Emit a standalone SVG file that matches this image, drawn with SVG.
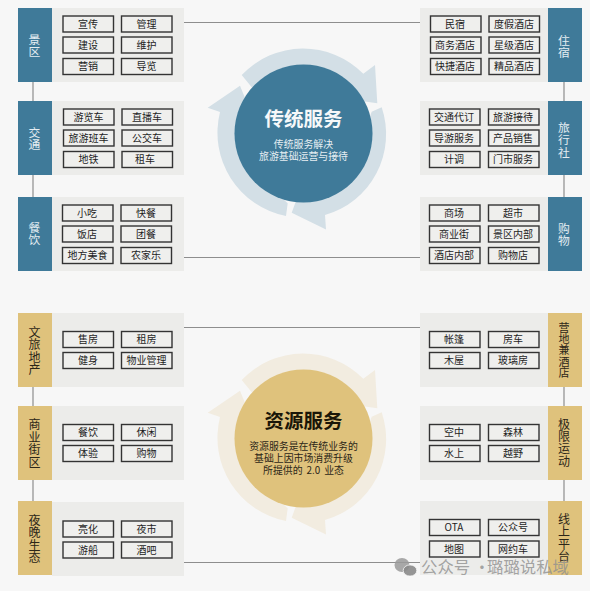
<svg xmlns="http://www.w3.org/2000/svg" width="590" height="591" viewBox="0 0 590 591">
<style>
text{font-family:"Noto Sans CJK SC","Noto Sans",sans-serif;text-anchor:middle}
.bg{fill:#f7f7f7}
.panel{fill:#ececea}
.blue{fill:#3f7a99}
.gold{fill:#dfc27c}
.ringb{fill:#d3dfe6}
.ringg{fill:#f2ece0}
.chip{fill:#efefed;stroke:#333;stroke-width:1.4}
.ct{font-size:10px;fill:#1e1e1e}
.hw{font-size:11.8px;fill:#e4edf2}
.hd{font-size:12px;fill:#2c2618}
.link{stroke:#8e8e8e;stroke-width:1.2;fill:none}
.tw{font-size:19.500px;font-weight:700;fill:#f6f8f9}
.sw{font-size:9.900px;fill:#e6eef2}
.td{font-size:19.500px;font-weight:700;fill:#1a1608}
.sd{font-size:9.900px;fill:#2c2618}
.wm{font-size:16.400px;fill:#8f8f8f;fill-opacity:.8;text-anchor:start}
</style>
<defs>
<g id="arrows">
<path d="M241.7,75 A84.5,84.5 0 0 1 363.3,73.7 L375,65 L377.3,103.3 L340,98 L300,90 L262,100 Z"/>
<path d="M381.7,107.3 A84,84 0 0 1 325,215 L326,229.5 L291.7,212.7 L300,190 L350,170 L371.7,111.7 Z"/>
<path d="M286,216 A85,85 0 0 1 220,112 L207.7,107.7 L240,85.7 L250,110 L240,160 L287.7,203.3 Z"/>
</g>
</defs>
<rect class="bg" width="590" height="591"/>
<g id="connectors">
<path class="link" d="M33,82V101M33,175V197M564,82V101M564,175V197"/>
<path class="link" d="M184,22.500H420M184,257.500H420"/>
<path class="link" d="M33,387V406M33,480V501M564,387V406M564,480V501"/>
<path class="link" d="M184,327.500H420M184,562.500H420"/>
</g>
<g id="n-jingqu">
<rect class="panel" x="52" y="8" width="132" height="74"/><rect class="blue" x="18" y="8" width="34" height="74"/>
<text class="hw"><tspan x="34.500" y="44">景</tspan><tspan x="34.500" y="56">区</tspan></text>
<rect class="chip" x="63" y="16" width="50.500" height="16"/><text class="ct" x="88" y="27.700">宣传</text>
<rect class="chip" x="121.500" y="16" width="50.500" height="16"/><text class="ct" x="146.500" y="27.700">管理</text>
<rect class="chip" x="63" y="37" width="50.500" height="16"/><text class="ct" x="88" y="48.700">建设</text>
<rect class="chip" x="121.500" y="37" width="50.500" height="16"/><text class="ct" x="146.500" y="48.700">维护</text>
<rect class="chip" x="63" y="58.500" width="50.500" height="16"/><text class="ct" x="88" y="70">营销</text>
<rect class="chip" x="121.500" y="58.500" width="50.500" height="16"/><text class="ct" x="146.500" y="70">导览</text>
</g>
<g id="n-jiaotong">
<rect class="panel" x="52" y="101" width="132" height="74"/><rect class="blue" x="18" y="101" width="34" height="74"/>
<text class="hw"><tspan x="34.500" y="137">交</tspan><tspan x="34.500" y="149">通</tspan></text>
<rect class="chip" x="63.500" y="109" width="50.500" height="16"/><text class="ct" x="88.500" y="120.700">游览车</text>
<rect class="chip" x="122" y="109" width="50.500" height="16"/><text class="ct" x="147" y="120.700">直播车</text>
<rect class="chip" x="63.500" y="130" width="50.500" height="16"/><text class="ct" x="88.500" y="141.700">旅游班车</text>
<rect class="chip" x="122" y="130" width="50.500" height="16"/><text class="ct" x="147" y="141.700">公交车</text>
<rect class="chip" x="63.500" y="151.500" width="50.500" height="16"/><text class="ct" x="88.500" y="163">地铁</text>
<rect class="chip" x="122" y="151.500" width="50.500" height="16"/><text class="ct" x="145" y="163">租车</text>
</g>
<g id="n-canyin">
<rect class="panel" x="52" y="197" width="132" height="74"/><rect class="blue" x="18" y="197" width="34" height="74"/>
<text class="hw"><tspan x="34.500" y="232">餐</tspan><tspan x="34.500" y="244">饮</tspan></text>
<rect class="chip" x="62.500" y="205" width="50.500" height="16"/><text class="ct" x="87" y="216.700">小吃</text>
<rect class="chip" x="121" y="205" width="50.500" height="16"/><text class="ct" x="146" y="216.700">快餐</text>
<rect class="chip" x="62.500" y="226" width="50.500" height="16"/><text class="ct" x="87" y="237.700">饭店</text>
<rect class="chip" x="121" y="226" width="50.500" height="16"/><text class="ct" x="146" y="237.700">团餐</text>
<rect class="chip" x="62.500" y="247.500" width="50.500" height="16"/><text class="ct" x="87.500" y="259">地方美食</text>
<rect class="chip" x="121" y="247.500" width="50.500" height="16"/><text class="ct" x="146" y="259">农家乐</text>
</g>
<g id="n-zhusu">
<rect class="panel" x="420" y="8" width="128" height="74"/><rect class="blue" x="548" y="8" width="34" height="74"/>
<text class="hw"><tspan x="564" y="44.500">住</tspan><tspan x="564" y="56.500">宿</tspan></text>
<rect class="chip" x="430.500" y="16" width="50.500" height="16"/><text class="ct" x="455" y="27.700">民宿</text>
<rect class="chip" x="489" y="16" width="50.500" height="16"/><text class="ct" x="514" y="27.700">度假酒店</text>
<rect class="chip" x="430.500" y="37" width="50.500" height="16"/><text class="ct" x="455" y="48.700">商务酒店</text>
<rect class="chip" x="489" y="37" width="50.500" height="16"/><text class="ct" x="514" y="48.700">星级酒店</text>
<rect class="chip" x="430.500" y="58.500" width="50.500" height="16"/><text class="ct" x="455" y="70">快捷酒店</text>
<rect class="chip" x="489" y="58.500" width="50.500" height="16"/><text class="ct" x="514" y="70">精品酒店</text>
</g>
<g id="n-lvxingshe">
<rect class="panel" x="420" y="101" width="128" height="74"/><rect class="blue" x="548" y="101" width="34" height="74"/>
<text class="hw"><tspan x="564" y="131.500">旅</tspan><tspan x="564" y="144">行</tspan><tspan x="564" y="156.500">社</tspan></text>
<rect class="chip" x="429.500" y="109" width="50.500" height="16"/><text class="ct" x="454" y="120.700">交通代订</text>
<rect class="chip" x="488.500" y="109" width="50.500" height="16"/><text class="ct" x="513" y="120.700">旅游接待</text>
<rect class="chip" x="429.500" y="130" width="50.500" height="16"/><text class="ct" x="454" y="141.700">导游服务</text>
<rect class="chip" x="488.500" y="130" width="50.500" height="16"/><text class="ct" x="513" y="141.700">产品销售</text>
<rect class="chip" x="429.500" y="151.500" width="50.500" height="16"/><text class="ct" x="454" y="163">计调</text>
<rect class="chip" x="488.500" y="151.500" width="50.500" height="16"/><text class="ct" x="513" y="163">门市服务</text>
</g>
<g id="n-gouwu">
<rect class="panel" x="420" y="197" width="128" height="74"/><rect class="blue" x="548" y="197" width="34" height="74"/>
<text class="hw"><tspan x="564" y="232.500">购</tspan><tspan x="564" y="244.500">物</tspan></text>
<rect class="chip" x="429.500" y="205" width="50.500" height="16"/><text class="ct" x="454" y="216.700">商场</text>
<rect class="chip" x="488.500" y="205" width="50.500" height="16"/><text class="ct" x="513" y="216.700">超市</text>
<rect class="chip" x="429.500" y="226" width="50.500" height="16"/><text class="ct" x="454" y="237.700">商业街</text>
<rect class="chip" x="488.500" y="226" width="50.500" height="16"/><text class="ct" x="513" y="237.700">景区内部</text>
<rect class="chip" x="429.500" y="247.500" width="50.500" height="16"/><text class="ct" x="454" y="259">酒店内部</text>
<rect class="chip" x="488.500" y="247.500" width="50.500" height="16"/><text class="ct" x="513" y="259">购物店</text>
</g>
<g id="n-chuantong">
<use href="#arrows" class="ringb"/>
<circle class="blue" cx="303.500" cy="133.500" r="69"/>
<text class="tw" x="303.500" y="125.500">传统服务</text>
<text class="sw" x="303.500" y="147.700">传统服务解决</text>
<text class="sw" x="303.500" y="160.300">旅游基础运营与接待</text>
</g>
<g id="n-wenlv">
<rect class="panel" x="52" y="313" width="132" height="74"/><rect class="gold" x="18" y="313" width="34" height="74"/>
<text class="hd"><tspan x="34.500" y="336.500">文</tspan><tspan x="34.500" y="349">旅</tspan><tspan x="34.500" y="361.500">地</tspan><tspan x="34.500" y="374">产</tspan></text>
<rect class="chip" x="63" y="331.500" width="50.500" height="16"/><text class="ct" x="88" y="343.200">售房</text>
<rect class="chip" x="121.500" y="331.500" width="50.500" height="16"/><text class="ct" x="146.500" y="343.200">租房</text>
<rect class="chip" x="63" y="352.500" width="50.500" height="16"/><text class="ct" x="88" y="364.200">健身</text>
<rect class="chip" x="121.500" y="352.500" width="50.500" height="16"/><text class="ct" x="146.500" y="364.200">物业管理</text>
</g>
<g id="n-shangye">
<rect class="panel" x="52" y="406" width="132" height="74"/><rect class="gold" x="18" y="406" width="34" height="74"/>
<text class="hd"><tspan x="34.500" y="429">商</tspan><tspan x="34.500" y="441.500">业</tspan><tspan x="34.500" y="454">街</tspan><tspan x="34.500" y="466.500">区</tspan></text>
<rect class="chip" x="63" y="424.500" width="50.500" height="16"/><text class="ct" x="88" y="436.200">餐饮</text>
<rect class="chip" x="121.500" y="424.500" width="50.500" height="16"/><text class="ct" x="146.500" y="436.200">休闲</text>
<rect class="chip" x="63" y="445.500" width="50.500" height="16"/><text class="ct" x="88" y="457.200">体验</text>
<rect class="chip" x="121.500" y="445.500" width="50.500" height="16"/><text class="ct" x="146.500" y="457.200">购物</text>
</g>
<g id="n-yewan">
<rect class="panel" x="52" y="502" width="132" height="74"/><rect class="gold" x="18" y="501" width="34" height="74"/>
<text class="hd"><tspan x="34.500" y="524.500">夜</tspan><tspan x="34.500" y="537">晚</tspan><tspan x="34.500" y="549.500">生</tspan><tspan x="34.500" y="562">态</tspan></text>
<rect class="chip" x="63" y="521" width="50.500" height="16"/><text class="ct" x="88" y="532.700">亮化</text>
<rect class="chip" x="121.500" y="521" width="50.500" height="16"/><text class="ct" x="146.500" y="532.700">夜市</text>
<rect class="chip" x="63" y="542" width="50.500" height="16"/><text class="ct" x="88" y="553.700">游船</text>
<rect class="chip" x="121.500" y="542" width="50.500" height="16"/><text class="ct" x="146.500" y="553.700">酒吧</text>
</g>
<g id="n-yingdi">
<rect class="panel" x="420" y="313" width="128" height="74"/><rect class="gold" x="548" y="313" width="34" height="74"/>
<text class="hd" style="font-size:11px"><tspan x="564" y="332">营</tspan><tspan x="564" y="343.200">地</tspan><tspan x="564" y="354.400">兼</tspan><tspan x="564" y="365.600">酒</tspan><tspan x="564" y="376.800">店</tspan></text>
<rect class="chip" x="429.500" y="331.500" width="50.500" height="16"/><text class="ct" x="454" y="343.200">帐篷</text>
<rect class="chip" x="488.500" y="331.500" width="50.500" height="16"/><text class="ct" x="513" y="343.200">房车</text>
<rect class="chip" x="429.500" y="352.500" width="50.500" height="16"/><text class="ct" x="454" y="364.200">木屋</text>
<rect class="chip" x="488.500" y="352.500" width="50.500" height="16"/><text class="ct" x="513" y="364.200">玻璃房</text>
</g>
<g id="n-jixian">
<rect class="panel" x="420" y="406" width="128" height="74"/><rect class="gold" x="548" y="406" width="34" height="74"/>
<text class="hd"><tspan x="564" y="428.700">极</tspan><tspan x="564" y="441">限</tspan><tspan x="564" y="453.300">运</tspan><tspan x="564" y="465.600">动</tspan></text>
<rect class="chip" x="429.500" y="424.500" width="50.500" height="16"/><text class="ct" x="454" y="436.200">空中</text>
<rect class="chip" x="488.500" y="424.500" width="50.500" height="16"/><text class="ct" x="513" y="436.200">森林</text>
<rect class="chip" x="429.500" y="445.500" width="50.500" height="16"/><text class="ct" x="454" y="457.200">水上</text>
<rect class="chip" x="488.500" y="445.500" width="50.500" height="16"/><text class="ct" x="513" y="457.200">越野</text>
</g>
<g id="n-xianshang">
<rect class="panel" x="420" y="501" width="128" height="74"/><rect class="gold" x="548" y="501" width="34" height="74"/>
<text class="hd"><tspan x="564" y="523.700">线</tspan><tspan x="564" y="536.200">上</tspan><tspan x="564" y="548.700">平</tspan><tspan x="564" y="561.200">台</tspan></text>
<rect class="chip" x="429.500" y="519.500" width="50.500" height="16"/><text class="ct" x="454" y="531.200">OTA</text>
<rect class="chip" x="488.500" y="519.500" width="50.500" height="16"/><text class="ct" x="513" y="531.200">公众号</text>
<rect class="chip" x="429.500" y="541" width="50.500" height="16"/><text class="ct" x="454" y="552.700">地图</text>
<rect class="chip" x="488.500" y="541" width="50.500" height="16"/><text class="ct" x="513" y="552.700">网约车</text>
</g>
<g id="n-ziyuan">
<use href="#arrows" class="ringg" transform="translate(0,305)"/>
<circle class="gold" cx="303.500" cy="438.500" r="69"/>
<text class="td" x="303.500" y="428">资源服务</text>
<text class="sd" x="303.500" y="449.800">资源服务是在传统业务的</text>
<text class="sd" x="303.500" y="462">基础上因市场消费升级</text>
<text class="sd" x="303.500" y="474" word-spacing="1.800">所提供的 2.0 业态</text>
</g>
<g id="watermark">
<ellipse cx="402" cy="565" rx="7.500" ry="7" fill="#9a9a9a" fill-opacity=".85"/>
<ellipse cx="410" cy="570.500" rx="6.800" ry="5.600" fill="#8a8a8a" fill-opacity=".9" stroke="#f7f7f7" stroke-width=".8"/>
<text class="wm" x="421" y="573">公众号 · <tspan x="487">璐璐说私域</tspan></text>
</g>
</svg>
